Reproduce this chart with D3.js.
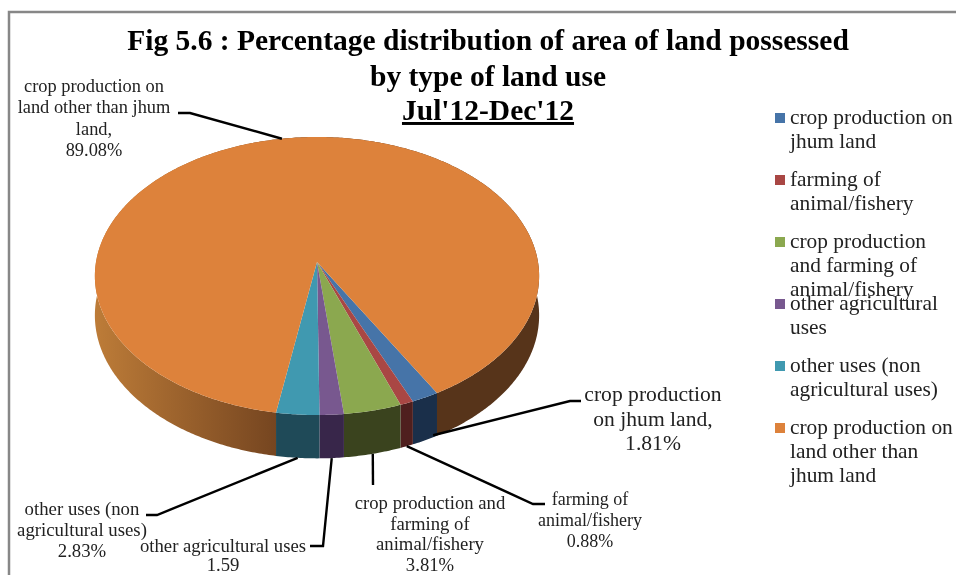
<!DOCTYPE html>
<html>
<head>
    <meta charset="utf-8">
    <style>
        html, body { margin: 0; padding: 0; background: #fff; }
        svg { display: block; filter: blur(0.45px); }
        text { font-family: "Liberation Serif", serif; fill: #222; }
    </style>
</head>
<body>
    <script src="https://d3js.org/d3.v7.min.js"></script>
    <script>
        const width = 956;
        const height = 575;

        // data
        const categories = [
            "crop production on jhum land",
            "farming of animal/fishery",
            "crop production and farming of animal/fishery",
            "other agricultural uses",
            "other uses (non agricultural uses)",
            "crop production on land other than jhum land"
        ];
        const values = [1.81, 0.88, 3.81, 1.59, 2.83, 89.08];
        const valueLabels = ["1.81%", "0.88%", "3.81%", "1.59", "2.83%", "89.08%"];
        const legendLines = [
            ["crop production on", "jhum land"],
            ["farming of", "animal/fishery"],
            ["crop production", "and farming of", "animal/fishery"],
            ["other agricultural", "uses"],
            ["other uses (non", "agricultural uses)"],
            ["crop production on", "land other than", "jhum land"]
        ];
        const labelLines = [
            ["crop production", "on jhum land,"],
            ["farming of", "animal/fishery"],
            ["crop production and", "farming of", "animal/fishery"],
            ["other agricultural uses"],
            ["other uses (non", "agricultural uses)"],
            ["crop production on", "land other than jhum", "land,"]
        ];
        const titleLines = ["Fig 5.6 : Percentage distribution of area of land possessed", "by type of land use", "Jul'12-Dec'12"];

        // styles
        const topColors = ["#4674a8", "#a94744", "#8ba84f", "#78588f", "#4099b0", "#dd823b"];
        const sideColors = ["#1a2f4a", "#4f1f1e", "#3a431e", "#38264a", "#1f4a58", "url(#orangeSide)"];

        // label layout: text centre, first baseline, line step, font size, leader elbow/end
        const labelPos = [
            { x: 653, y: 401, step: 24.5, size: 21.6, path: [[570, 401], [581, 401]], off: [8, -5] },
            { x: 590, y: 505, step: 21, size: 18, path: [[533, 504], [545, 504]] },
            { x: 430, y: 509, step: 20.7, size: 18.7, path: [[373, 485]] },
            { x: 223, y: 552, step: 19, size: 18.7, path: [[323, 546], [310, 546]] },
            { x: 82, y: 515, step: 21, size: 18.8, path: [[157, 515], [146, 515]] },
            { x: 94, y: 92, step: 21.3, size: 18.4, path: [[190, 113], [178, 113]], top: true }
        ];

        // perspective of the pie disc
        const cx = 317, cy = 262;
        const R = 221, Ry = 137.6, k = 0.1007, depth = 39;
        const start = 150.3 * Math.PI / 180;

        function project(a, d) {
            const u = Math.sin(a), v = -Math.cos(a);
            const s = 1 / (1 - k * v);
            return [cx + R * u * s, cy + Ry * v * s + d * s];
        }

        function arcPoints(a0, a1, d) {
            const n = Math.max(2, Math.ceil(Math.abs(a1 - a0) / 0.01));
            return d3.range(n + 1).map(i => project(a0 + (a1 - a0) * i / n, d));
        }

        const svg = d3.select("body").append("svg").attr("width", width).attr("height", height);

        const grad = svg.append("defs").append("linearGradient")
            .attr("id", "orangeSide")
            .attr("gradientUnits", "userSpaceOnUse")
            .attr("x1", 95).attr("x2", 540).attr("y1", 0).attr("y2", 0);
        grad.append("stop").attr("offset", 0).attr("stop-color", "#bd7c38");
        grad.append("stop").attr("offset", 0.41).attr("stop-color", "#754520");
        grad.append("stop").attr("offset", 0.41).attr("stop-color", "#57341a");
        grad.append("stop").attr("offset", 1).attr("stop-color", "#57341a");

        // frame
        svg.append("path")
            .attr("d", d3.line()([[9, height], [9, 12], [width, 12]]))
            .attr("fill", "none").attr("stroke", "#878787").attr("stroke-width", 2.5);

        const pie = d3.pie().sort(null).startAngle(start).endAngle(start + 2 * Math.PI);
        const slices = pie(values);
        const line = d3.line();

        // sides first, then the top face over them
        svg.append("g").selectAll("path").data(slices).enter().append("path")
            .attr("d", d => line(arcPoints(d.startAngle, d.endAngle, 0).concat(arcPoints(d.endAngle, d.startAngle, depth))) + "Z")
            .attr("fill", (d, i) => sideColors[i]);

        svg.append("g").selectAll("path").data(slices).enter().append("path")
            .attr("d", d => line([[cx, cy]].concat(arcPoints(d.startAngle, d.endAngle, 0))) + "Z")
            .attr("fill", (d, i) => topColors[i]);

        // leader lines
        svg.append("g").selectAll("path").data(slices).enter().append("path")
            .attr("d", (d, i) => {
                const p = labelPos[i];
                const mid = (d.startAngle + d.endAngle) / 2;
                const a = project(mid, p.top ? 0 : depth);
                const off = p.off || [0, 0];
                return line([[a[0] + off[0], a[1] + off[1]]].concat(p.path));
            })
            .attr("fill", "none").attr("stroke", "#000").attr("stroke-width", 2.4);

        // data labels
        const labels = svg.append("g").selectAll("text").data(slices).enter().append("text")
            .attr("text-anchor", "middle")
            .attr("font-size", (d, i) => labelPos[i].size);
        labels.selectAll("tspan")
            .data((d, i) => labelLines[i].concat(valueLabels[i]).map(t => ({ t: t, p: labelPos[i] })))
            .enter().append("tspan")
            .attr("x", d => d.p.x)
            .attr("y", (d, j) => d.p.y + j * d.p.step)
            .text(d => d.t);

        // title
        const titleY = [50, 86, 120];
        svg.append("g").selectAll("text").data(titleLines).enter().append("text")
            .attr("x", 488)
            .attr("y", (d, i) => titleY[i])
            .attr("text-anchor", "middle")
            .attr("font-size", 29.5)
            .attr("font-weight", "bold")
            .style("fill", "#000")
            .attr("text-decoration", (d, i) => i == 2 ? "underline" : null)
            .text(d => d);

        // legend
        const legendY = d3.scalePoint().domain(categories).range([118, 428]);
        const legend = svg.append("g").selectAll("g").data(categories).enter().append("g")
            .attr("transform", d => `translate(775,${legendY(d)})`);
        legend.append("rect")
            .attr("y", -5).attr("width", 10).attr("height", 10)
            .attr("fill", (d, i) => topColors[i]);
        const legendText = legend.append("text").attr("font-size", 21.4);
        legendText.selectAll("tspan")
            .data((d, i) => legendLines[i])
            .enter().append("tspan")
            .attr("x", 15)
            .attr("y", (d, j) => 6 + j * 24.2)
            .text(d => d);
    </script>
</body>
</html>
